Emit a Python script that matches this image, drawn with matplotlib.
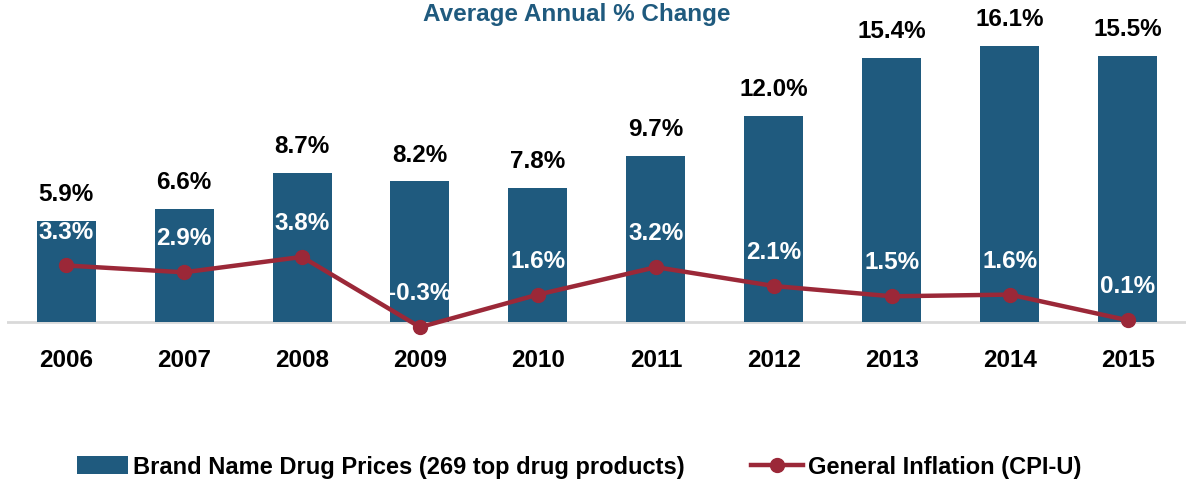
import matplotlib
matplotlib.use("Agg")
import matplotlib.pyplot as plt
import numpy as np

years = ["2006", "2007", "2008", "2009", "2010", "2011", "2012", "2013", "2014", "2015"]
brand_prices = [5.9, 6.6, 8.7, 8.2, 7.8, 9.7, 12.0, 15.4, 16.1, 15.5]
inflation = [3.3, 2.9, 3.8, -0.3, 1.6, 3.2, 2.1, 1.5, 1.6, 0.1]

bar_color = '#1F5A7E'
line_color = '#9B2838'

# narrow bold in the original; Liberation Sans is the closest installed
plt.rcParams['font.family'] = ['Liberation Sans Narrow', 'Liberation Sans', 'DejaVu Sans']
plt.rcParams['font.weight'] = 'bold'

fig = plt.figure(figsize=(11.86, 4.87), dpi=100)
ax = fig.add_axes([7 / 1186, 0.286, 1180 / 1186, 0.651])

x = np.arange(len(years))
bars = ax.bar(x, brand_prices, width=0.5, color=bar_color, zorder=2,
              label="Brand Name Drug Prices (269 top drug products)")
line, = ax.plot(x, inflation, color=line_color, lw=3.2, marker='o', ms=10, zorder=3,
                label="General Inflation (CPI-U)")
ax.axhline(0, color='#D9D9D9', lw=2, zorder=1)

for xi, v in zip(x, brand_prices):
    ax.annotate(f"{v:.1f}%", (xi, v), xytext=(0, 19), textcoords='offset points',
                ha='center', va='center', fontsize=17.5, fontweight='bold', color='black')
for xi, v in zip(x, inflation):
    ax.annotate(f"{v:.1f}%", (xi, v), xytext=(0, 24), textcoords='offset points',
                ha='center', va='center', fontsize=17.5, fontweight='bold', color='white', zorder=4)

ax.set_xlim(-0.5, 9.5)
ax.set_ylim(-1.5, 17)
ax.set_xticks(x)
ax.set_xticklabels(years, fontsize=17.5, fontweight='bold')
ax.tick_params(axis='x', length=0, pad=1)
ax.set_yticks([])
for s in ax.spines.values():
    s.set_visible(False)

fig.text(0.4865, 0.971, "Average Annual % Change", ha='center', va='center',
         fontsize=17.5, fontweight='bold', color=bar_color)

fig.legend(handles=[bars, line], loc='center', bbox_to_anchor=(0.488, 0.041), ncol=2,
           frameon=False, fontsize=17, handlelength=2.2, handleheight=0.8,
           columnspacing=2.8, handletextpad=0.2)

fig.savefig("out.png", dpi=100)
